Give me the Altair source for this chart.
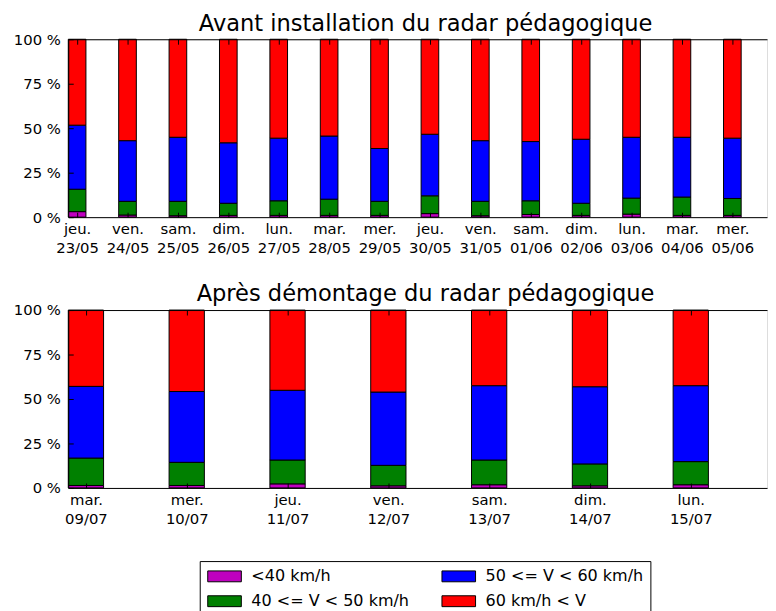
import altair as alt
import pandas as pd

FONT = "DejaVu Sans"

# ---- data (percentages per speed class) ----
top_weekdays = ["jeu.", "ven.", "sam.", "dim.", "lun.", "mar.", "mer.",
                "jeu.", "ven.", "sam.", "dim.", "lun.", "mar.", "mer."]
top_dates = ["23/05", "24/05", "25/05", "26/05", "27/05", "28/05", "29/05",
             "30/05", "31/05", "01/06", "02/06", "03/06", "04/06", "05/06"]
top_lt40 = [3.1, 1.2, 0.8, 1.0, 1.0, 1.0, 1.0, 2.0, 0.8, 1.5, 1.0, 1.7, 1.0, 1.0]
top_40_50 = [12.6, 7.7, 8.1, 6.8, 8.2, 9.1, 7.9, 10.0, 8.1, 7.7, 6.8, 9.0, 10.3, 9.5]
top_50_60 = [36.0, 34.1, 36.0, 34.0, 35.2, 35.5, 29.7, 34.6, 34.1, 33.3, 36.0, 34.2, 33.6, 33.9]
top_gt60 = [48.3, 57.0, 55.1, 58.2, 55.6, 54.4, 61.4, 53.4, 57.0, 57.5, 56.2, 55.1, 55.1, 55.6]

bot_weekdays = ["mar.", "mer.", "jeu.", "ven.", "sam.", "dim.", "lun."]
bot_dates = ["09/07", "10/07", "11/07", "12/07", "13/07", "14/07", "15/07"]
bot_lt40 = [1.4, 1.4, 2.3, 1.2, 1.8, 1.2, 1.8]
bot_40_50 = [15.4, 13.0, 13.4, 11.5, 13.9, 12.3, 13.0]
bot_50_60 = [40.3, 39.8, 39.2, 41.2, 41.8, 43.4, 42.7]
bot_gt60 = [42.9, 45.8, 45.1, 46.1, 42.5, 43.1, 42.5]

classes = ["<40 km/h", "40 <= V < 50 km/h", "50 <= V < 60 km/h", "60 km/h < V"]
class_colors = ["#bf00bf", "#008000", "#0000ff", "#ff0000"]

titles = ["Avant installation du radar pédagogique",
          "Après démontage du radar pédagogique"]

# ---- layout constants ----
PLOT_W = 707
PLOT_H = 180
BAR_W = 0.35
TICK = 5


def build_df(series_list):
    rows = []
    n = len(series_list[0])
    for i in range(n):
        acc = 0.0
        for k, (cls, ser) in enumerate(zip(classes, series_list)):
            rows.append({"x0": i, "x1": i + BAR_W, "cls": cls, "k": k,
                         "y0": acc, "y1": acc + ser[i]})
            acc += ser[i]
    return pd.DataFrame(rows)


def panel(df, weekdays, dates, title, step_px, show_legend):
    n = len(weekdays)
    dom_max = PLOT_W / step_px
    tick_vals = [i + BAR_W / 2 for i in range(n)]
    label_arr = "[" + ",".join(f"['{w}','{d}']" for w, d in zip(weekdays, dates)) + "]"
    label_expr = f"{label_arr}[round(datum.value - {BAR_W / 2})]"
    xs = alt.Scale(domain=[0, dom_max], nice=False, zero=False)
    ys = alt.Scale(domain=[0, 100], nice=False)
    base = alt.Chart(df)

    legend = None
    if show_legend:
        legend = alt.Legend(
            orient="none", legendX=133, legendY=528, columns=2, title=None,
            symbolType="M-1,-0.786L3.857,-0.786L3.857,0.786L-1,0.786Z", symbolSize=196,
            symbolStrokeColor="black", symbolStrokeWidth=1, symbolOpacity=1,
            labelFont=FONT, labelFontSize=16.2, labelColor="black", labelOffset=29,
            strokeColor="black", fillColor="white", padding=7, cornerRadius=0,
            columnPadding=31, rowPadding=8.5,
        )

    bars = base.mark_rect(stroke="black", strokeWidth=1).encode(
        x=alt.X("x0:Q", scale=xs, title=None,
                axis=alt.Axis(orient="bottom", values=tick_vals, labelExpr=label_expr,
                              ticks=False, grid=False, domain=True, domainColor="black",
                              labelFont=FONT, labelFontSize=15, labelColor="black",
                              labelAlign="center", labelBaseline="top", labelPadding=5,
                              labelLineHeight=19, labelFlush=False, labelOverlap=False,
                              minExtent=45, maxExtent=45, zindex=1)),
        x2="x1:Q",
        y=alt.Y("y0:Q", scale=ys, title=None,
                axis=alt.Axis(orient="left", values=[0, 25, 50, 75, 100],
                              labelExpr="datum.value + ' %'", ticks=False, grid=False,
                              domain=True, domainColor="black",
                              labelFont=FONT, labelFontSize=15, labelColor="black",
                              labelPadding=8, minExtent=60, maxExtent=60, zindex=1)),
        y2="y1:Q",
        color=alt.Color("cls:N", scale=alt.Scale(domain=classes, range=class_colors),
                        legend=legend),
    )

    ghost = base.mark_point(opacity=0)

    inner_bottom = ghost.encode(
        x=alt.X("x0:Q", scale=xs, title=None,
                axis=alt.Axis(orient="bottom", offset=-TICK, values=tick_vals, labels=False,
                              ticks=True, tickSize=TICK, tickColor="black", domain=False,
                              grid=False, minExtent=0, maxExtent=0, zindex=2)),
        y=alt.Y("y0:Q", scale=ys, title=None,
                axis=alt.Axis(orient="left", offset=-TICK, values=[0, 25, 50, 75, 100],
                              labels=False, ticks=True, tickSize=TICK, tickColor="black",
                              domain=False, grid=False, minExtent=0, maxExtent=0, zindex=2)),
    )
    top_spine = ghost.encode(
        x=alt.X("x0:Q", scale=xs, title=None,
                axis=alt.Axis(orient="top", labels=False, ticks=False, domain=True,
                              domainColor="black", grid=False, minExtent=0, maxExtent=0,
                              zindex=2)),
        y=alt.Y("y0:Q", scale=ys, axis=None),
    )
    top_ticks = ghost.encode(
        x=alt.X("x0:Q", scale=xs, title=None,
                axis=alt.Axis(orient="top", offset=-TICK, values=tick_vals, labels=False,
                              ticks=True, tickSize=TICK, tickColor="black", domain=False,
                              grid=False, minExtent=0, maxExtent=0, zindex=2)),
        y=alt.Y("y0:Q", scale=ys, axis=None),
    )

    return alt.layer(bars, inner_bottom, top_spine, top_ticks).resolve_axis(
        x="independent", y="independent"
    ).properties(
        width=PLOT_W, height=PLOT_H,
        title=alt.TitleParams(title, font=FONT, fontSize=22.8, fontWeight="normal",
                              color="black", anchor="middle", dx=8, offset=-3),
    )


top = panel(build_df([top_lt40, top_40_50, top_50_60, top_gt60]),
            top_weekdays, top_dates, titles[0], 51, True)
bottom = panel(build_df([bot_lt40, bot_40_50, bot_50_60, bot_gt60]),
               bot_weekdays, bot_dates, titles[1], 102, False)

chart = alt.vconcat(top, bottom, spacing=20).properties(
    padding={"left": 0, "top": 0, "right": 0, "bottom": 0}
).configure_view(stroke=None).configure(background="white")

chart.save("out.html", embed_options={"renderer": "svg", "actions": False})
